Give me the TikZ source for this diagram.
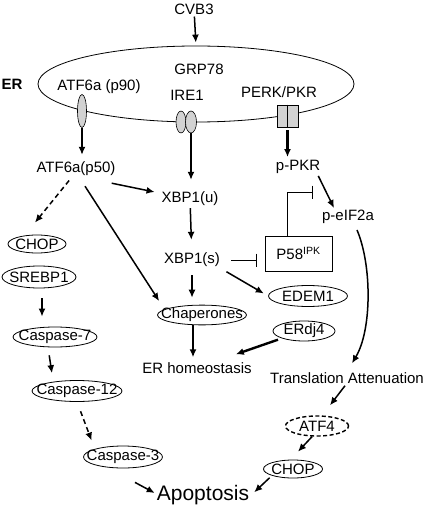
\documentclass[tikz,border=0pt]{standalone}
\usepackage{fontspec}
\setmainfont{Liberation Sans}
\usepackage{tikz}
\usetikzlibrary{shapes.geometric,arrows.meta}
\tikzstyle{oval}=[ellipse, draw, line width=0.8pt, inner sep=0pt]
\tikzstyle{recep}=[ellipse, draw, fill=gray!35, line width=0.6pt, inner sep=0pt]
\tikzstyle{line}=[draw, line width=1.5pt, -{Latex[length=8pt,width=7pt]}]
\tikzstyle{dline}=[line, dash pattern=on 5pt off 3.5pt]
\tikzstyle{inhib}=[draw, line width=0.8pt, -{Bar[width=13pt]}]
\newcommand{\inoval}[1]{\makebox[0pt]{#1}}

\begin{document}
\begin{tikzpicture}[x=1pt, y=-1pt, inner sep=2pt, font=\fontsize{15}{18}\selectfont]
    \useasboundingbox (0,0) rectangle (425,508);
    % ER membrane and sensors
    \node [ellipse, draw, line width=0.8pt, minimum width=316pt, minimum height=76pt] at (196,84) (ermem) {};
    \node at (194,9)  (cvb3)   {CVB3};
    \node at (12,84)  (er)     {\bfseries ER};
    \node at (199,69) (grp)    {GRP78};
    \node at (99,87)  (atfp90) {ATF6a (p90)};
    \node at (187,95) (ire)    {IRE1};
    \node at (279,92) (perk)   {PERK/PKR};
    \node [recep, minimum width=9pt, minimum height=33pt]  at (82,111) (atfrec) {};
    \node [recep, minimum width=10pt, minimum height=22pt] at (181,122) (irea) {};
    \node [recep, minimum width=11pt, minimum height=22pt] at (191,122) (ireb) {};
    \node [draw, fill=gray!35, line width=0.6pt, inner sep=0pt, minimum width=21pt, minimum height=22pt] at (287.5,116) (perkbox) {};
    \draw [line width=1.2pt] (perkbox.north) -- (perkbox.south);
    % plain labels
    \node at (76,169)  (atfp50) {ATF6a(p50)};
    \node at (190,199) (xbpu)   {XBP1(u)};
    \node at (192,260) (xbps)   {XBP1(s)};
    \node at (298,167) (pkr)    {p-PKR};
    \node at (348,217) (eif)    {p-eIF2a};
    \node [draw, line width=0.8pt, minimum width=67pt, minimum height=35pt] at (298.5,253.5) (p58) {P58\textsuperscript{IPK}};
    \node at (197,368) (erhom)  {ER homeostasis};
    \node at (347,378) (trans)  {Translation Attenuation};
    \node [font=\fontsize{21}{24}\selectfont] at (203,495) (apop) {Apoptosis};
    \coordinate (inhend) at (313,192);
    % ovals
    \node [oval, minimum width=58pt, minimum height=18pt] at (37,244)  (chopl)  {\inoval{CHOP}};
    \node [oval, minimum width=74pt, minimum height=22pt] at (39,277)  (srebp)  {\inoval{SREBP1}};
    \node [oval, minimum width=84pt, minimum height=20pt] at (55,337)  (casp7)  {\inoval{Caspase-7}};
    \node [oval, minimum width=90pt, minimum height=21pt] at (77,391)  (casp12) {\inoval{Caspase-12}};
    \node [oval, minimum width=79pt, minimum height=22pt] at (123,457) (casp3)  {\inoval{Caspase-3}};
    \node [oval, minimum width=89pt, minimum height=19pt] at (202,315) (chap)   {\inoval{Chaperones}};
    \node [oval, minimum width=79pt, minimum height=21pt] at (308,296) (edem)   {\inoval{EDEM1}};
    \node [oval, minimum width=62pt, minimum height=20pt] at (304,331) (erdj)   {\inoval{ERdj4}};
    \node [oval, line width=1.4pt, dash pattern=on 4pt off 2.5pt, minimum width=63pt, minimum height=20pt] at (317,426) (atf4) {\inoval{ATF4}};
    \node [oval, minimum width=59pt, minimum height=18pt] at (293,469) (chopr)  {\inoval{CHOP}};
    % connectors
    \path [line, shorten >=3pt] (cvb3) -- (ermem.north);
    \path [line, shorten >=5pt] (atfrec.south) -- (atfrec.south |- atfp50.north);
    \path [line, shorten >=10pt] (ireb.south) -- (ireb.south |- xbpu.north);
    \path [line, line width=2.4pt, shorten <=3pt, shorten >=1pt] (perkbox.south) -- (perkbox.south |- pkr.north);
    \path [line] ([xshift=-4pt]pkr.south east) -- ([xshift=-14pt]eif.north);
    \path [inhib] ([xshift=-11.5pt]p58.north) |- (inhend);
    \path [inhib, shorten <=9pt, shorten >=8pt] (xbps.east) -- (xbps.east -| p58.west);
    \path [line, shorten >=5pt] ([xshift=-6pt,yshift=-5pt]atfp50.south east) -- ([yshift=6pt]xbpu.west);
    \path [dline, shorten <=3pt] ([xshift=-5pt]atfp50.south) -- ([xshift=-2pt,yshift=12pt]chopl.north);
    \path [line] ([xshift=9pt,yshift=-8pt]atfp50.south) -- ([xshift=2pt,yshift=14pt]chap.west);
    \path [line, shorten >=11pt] (xbpu) -- (xbps);
    \path [line, shorten <=6pt, shorten >=7pt] (xbps.south) -- (xbps.south |- chap.north);
    \path [line, shorten <=5pt, shorten >=5pt] (xbps.south east) -- (edem.west);
    \path [line, shorten <=10pt, shorten >=10pt] ([xshift=3pt]srebp.south) -- ([xshift=3pt]srebp.south |- casp7.north);
    \path [line, shorten <=8pt, shorten >=7pt] ([xshift=-7pt]casp7.south) -- ([xshift=-24pt]casp12.north);
    \path [dline, shorten <=10pt, shorten >=9pt] (casp12.south) -- (casp3.north west);
    \path [line] ([xshift=12pt,yshift=-14pt]casp3.south) -- ([yshift=2pt]apop.west);
    \path [line, shorten <=3pt, shorten >=4pt] (chopr.south west) -- (apop.east);
    \path [line, shorten >=3pt] ([xshift=-9pt]chap.south) -- ([xshift=-4pt]erhom.north);
    \path [line, line width=2.4pt, shorten <=4pt] (erdj.south west) -- ([xshift=-18pt,yshift=6pt]erhom.north east);
    \path [line] ([xshift=9pt,yshift=-4pt]eif.south) .. controls (372,265) and (372,330) .. ([xshift=5pt,yshift=7pt]trans.north);
    \path [line] ([xshift=-2pt]trans.south) -- ([xshift=13pt,yshift=10pt]atf4.north);
    \path [line] ([xshift=-5pt]atf4.south) -- ([xshift=5pt,yshift=8pt]chopr.north);
\end{tikzpicture}
\end{document}
